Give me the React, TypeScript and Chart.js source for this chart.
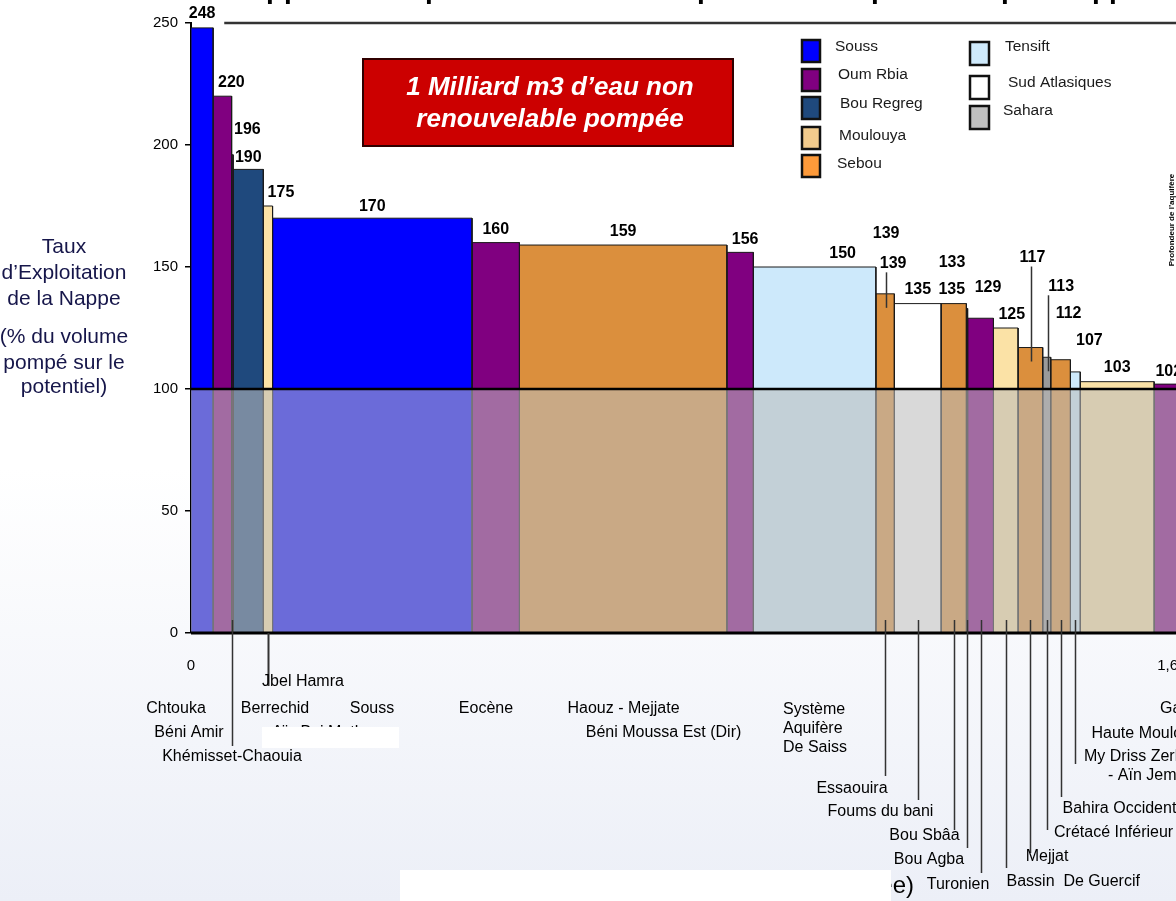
import React, { useEffect, useRef } from 'react';
import { Chart, registerables } from 'chart.js';

Chart.register(...registerables);

const FONT = '"Liberation Sans", Arial, Helvetica, sans-serif';

// ---------- DATA ----------
const aquifers = [
  'Chtouka', 'Béni Amir', 'Khémisset-Chaouia', 'Berrechid', 'Jbel Hamra', 'Souss', 'Eocène',
  'Haouz - Mejjate', 'Béni Moussa Est (Dir)', 'Système Aquifère De Saiss', 'Essaouira',
  'Foums du bani', 'Bou Sbâa', 'Bou Agba', 'Turonien', 'Bassin De Guercif', 'Mejjat',
  'Crétacé Inférieur', 'Bahira Occidentale', 'My Driss Zerhoun - Aïn Jemaa', 'Haute Moulouya', 'Gareb',
];
const basinOf = [
  'Souss', 'Oum Rbia', 'Oum Rbia', 'Bou Regreg', 'Moulouya', 'Souss', 'Oum Rbia',
  'Sebou', 'Oum Rbia', 'Tensift', 'Sebou',
  'Sud Atlasiques', 'Sebou', 'Sebou', 'Oum Rbia', 'Moulouya', 'Sebou',
  'Sahara', 'Sebou', 'Tensift', 'Moulouya', 'Oum Rbia',
];
// volume pumped (Mm3/an) = bar width
const volumes = [36, 30, 2.5, 49, 15, 324, 77, 337, 43, 199, 30, 76, 41, 2, 42, 40, 40, 13, 32, 16, 120, 80];
// exploitation rate (%) = bar height
const rates = [248, 220, 196, 190, 175, 170, 160, 159, 156, 150, 139, 135, 135, 133, 129, 125, 117, 113, 112, 107, 103, 102];
const extraValueLabels = [{ bar: 10, text: '139' }];
const yTicks = { min: 0, max: 250, step: 50 };
const xRange = { min: 0, max: 1600 };
const xEndLabels = ['0', '1,600'];
const threshold = 100;

const legendBasins = ['Souss', 'Oum Rbia', 'Bou Regreg', 'Moulouya', 'Sebou', 'Tensift', 'Sud Atlasiques', 'Sahara'];

// ---------- STYLE / LAYOUT ----------
const barColors: Record<string, string> = {
  'Souss': '#0000ff', 'Oum Rbia': '#800080', 'Bou Regreg': '#1f497d', 'Moulouya': '#fbe2a6',
  'Sebou': '#db8f3d', 'Tensift': '#cde9fb', 'Sud Atlasiques': '#ffffff', 'Sahara': '#9a9a9a',
};
const legendColors: Record<string, string> = {
  'Souss': '#0000ff', 'Oum Rbia': '#800080', 'Bou Regreg': '#1f497d', 'Moulouya': '#f2cb8d',
  'Sebou': '#fd9a3a', 'Tensift': '#cfeafc', 'Sud Atlasiques': '#ffffff', 'Sahara': '#c0c0c0',
};
// legend layout: [squareX, squareY, squareW, squareH, textX, textY]
const legendLayout = [
  [802, 40, 18, 22, 835, 47], [802, 69, 18, 22, 838, 75], [802, 97, 18, 22, 840, 104],
  [802, 127, 18, 22, 839, 136], [802, 155, 18, 22, 837, 164],
  [970, 42, 19, 23, 1005, 47], [970, 76, 19, 23, 1008, 83], [970, 106, 19, 23, 1003, 111],
];
// value label offsets from bar centre / bar top (px)
const valueLabelOffset = [
  [0, -14], [9, -13.5], [15, -25], [0, -12], [13, -13], [0, -12], [0, -12.6], [0, -13.3], [5, -12.4],
  [28, -13], [8, -30.5], [0, -14], [-2, -14], [-15, -46], [7.5, -31], [6, -13], [2, -90], [14.5, -71],
  [8, -46], [14, -31], [0, -14], [-10, -12.4],
];
const extraValueOffset = [[1, -60]];
const upperLeaders = [10, 16, 17];
// lower leader lines: [bar index, startY, endY, width]
const lowerLeaders = [
  [2, 620, 746, 1.5], [4, 633, 686, 2], [10, 620, 776, 1.5], [11, 620, 800, 1.5], [12, 620, 830, 1.5],
  [13, 620, 848, 1.5], [14, 620, 873, 1.5], [15, 620, 868, 1.5], [16, 620, 853, 1.5],
  [17, 620, 830, 1.5], [18, 620, 797, 1.5], [19, 620, 764, 1.5],
];
// name labels: [text, x, y, align]
const nameLabels: [string, number, number, CanvasTextAlign][] = [
  ['Chtouka', 176, 709, 'center'], ['Béni Amir', 189, 733, 'center'], ['Khémisset-Chaouia', 232, 757, 'center'],
  ['Jbel Hamra', 303, 682, 'center'], ['Berrechid', 275, 709, 'center'], ['Souss', 372, 709, 'center'],
  ['Aïn Bni Mathar', 325, 732.5, 'center'],
  ['Eocène', 486, 709, 'center'], ['Haouz - Mejjate', 623.5, 709, 'center'], ['Béni Moussa Est (Dir)', 663.5, 733, 'center'],
  ['Système', 783, 710, 'left'], ['Aquifère', 783, 729, 'left'], ['De Saiss', 783, 747.5, 'left'],
  ['Essaouira', 852, 788.5, 'center'], ['Foums du bani', 880.5, 812, 'center'], ['Bou Sbâa', 924.5, 836, 'center'],
  ['Bou Agba', 929, 860, 'center'], ['Turonien', 958, 885, 'center'], ['Bassin  De Guercif', 1006.5, 882, 'left'],
  ['Mejjat', 1047, 857, 'center'], ['Crétacé Inférieur', 1054, 833, 'left'], ['Bahira Occidentale', 1062.5, 809, 'left'],
  ['My Driss Zerhoun', 1084, 757, 'left'], ['- Aïn Jemaa', 1108, 776, 'left'], ['Haute Moulouya', 1091.5, 734, 'left'],
  ['Gareb', 1160, 709, 'left'],
];
const yTitle: [string, number][] = [
  ['Taux', 247], ['d’Exploitation', 273.5], ['de la Nappe', 299.5],
  ['(% du volume', 337.5], ['pompé sur le', 363], ['potentiel)', 387],
];
const titleStemsX = [268, 286, 427, 699, 873, 1003, 1094, 1111];
const whiteBoxes = [[262, 727, 137, 21], [400, 870, 491, 31]];

const cumStart: number[] = [];
{
  let acc = 0;
  volumes.forEach((v) => { cumStart.push(acc); acc += v; });
}

const annotationPlugin = {
  id: 'annotations',
  afterDatasetsDraw(chart: any) {
    const ctx: CanvasRenderingContext2D = chart.ctx;
    const xs = chart.scales.x;
    const ys = chart.scales.y;
    const cx = (i: number) => xs.getPixelForValue(cumStart[i] + volumes[i] / 2);
    const top = (i: number) => ys.getPixelForValue(rates[i]);
    ctx.save();

    // value labels
    ctx.fillStyle = '#000';
    ctx.font = `bold 16px ${FONT}`;
    ctx.textAlign = 'center';
    ctx.textBaseline = 'middle';
    rates.forEach((r, i) => {
      const [dx, dy] = valueLabelOffset[i];
      ctx.fillText(String(r), cx(i) + dx, top(i) + dy);
    });
    extraValueLabels.forEach((l, k) => {
      const [dx, dy] = extraValueOffset[k];
      ctx.fillText(l.text, cx(l.bar) + dx, top(l.bar) + dy);
    });

    // upper leader lines
    ctx.strokeStyle = '#333';
    ctx.lineWidth = 1.5;
    upperLeaders.forEach((i) => {
      const x = Math.round(cx(i) + 1) + 0.5;
      ctx.beginPath();
      ctx.moveTo(x, top(i) + valueLabelOffset[i][1] + 9);
      ctx.lineTo(x, top(i) + 14);
      ctx.stroke();
    });

    // lower leader lines
    lowerLeaders.forEach(([i, y0, y1, w]) => {
      ctx.lineWidth = w;
      const x = Math.round(cx(i)) + 0.5;
      ctx.beginPath();
      ctx.moveTo(x, y0);
      ctx.lineTo(x, y1);
      ctx.stroke();
    });

    // name labels
    ctx.fillStyle = '#000';
    ctx.font = `16px ${FONT}`;
    ctx.textBaseline = 'middle';
    nameLabels.forEach(([t, x, y, a]) => {
      ctx.textAlign = a;
      ctx.fillText(t, x, y);
    });

    // x end labels
    ctx.font = `15px ${FONT}`;
    ctx.textAlign = 'center';
    ctx.fillText(xEndLabels[0], xs.getPixelForValue(xRange.min), 665.5);
    ctx.fillText(xEndLabels[1], xs.getPixelForValue(xRange.max), 665.5);

    // axis title (x, partially hidden)
    ctx.font = `24px ${FONT}`;
    ctx.textAlign = 'right';
    ctx.fillText('Volume pompé (Mm3/an, échelle cumulée)', 914, 886);

    // white masking boxes
    ctx.fillStyle = '#ffffff';
    whiteBoxes.forEach(([x, y, w, h]) => ctx.fillRect(x, y, w, h));

    // y title
    ctx.fillStyle = '#16164a';
    ctx.font = `21px ${FONT}`;
    ctx.textAlign = 'center';
    yTitle.forEach(([t, y]) => ctx.fillText(t, 64, y));

    // cropped title (only descenders visible)
    ctx.fillStyle = '#000';
    ctx.font = `bold 28px ${FONT}`;
    ctx.textAlign = 'left';
    ctx.textBaseline = 'alphabetic';
    titleStemsX.forEach((x) => ctx.fillText('p', x - 2, -2));

    // red callout box
    ctx.fillStyle = '#cc0000';
    ctx.fillRect(363, 59, 370, 87);
    ctx.strokeStyle = '#300000';
    ctx.lineWidth = 2;
    ctx.strokeRect(363, 59, 370, 87);
    ctx.fillStyle = '#ffffff';
    ctx.font = `italic bold 26px ${FONT}`;
    ctx.textAlign = 'center';
    ctx.textBaseline = 'middle';
    ctx.fillText('1 Milliard m3 d’eau non', 550, 88);
    ctx.fillText('renouvelable pompée', 550, 120);

    // legend
    ctx.font = `15.5px ${FONT}`;
    ctx.textAlign = 'left';
    legendBasins.forEach((b, k) => {
      const [sx, sy, sw, sh, tx, ty] = legendLayout[k];
      ctx.fillStyle = legendColors[b];
      ctx.fillRect(sx, sy, sw, sh);
      ctx.strokeStyle = '#111';
      ctx.lineWidth = 2.5;
      ctx.strokeRect(sx, sy, sw, sh);
      ctx.fillStyle = '#1a1a1a';
      ctx.fillText(b, tx, ty);
    });

    // rotated small text at right edge
    ctx.save();
    ctx.translate(1172, 220);
    ctx.rotate(-Math.PI / 2);
    ctx.fillStyle = '#000';
    ctx.font = `bold 8px ${FONT}`;
    ctx.textAlign = 'center';
    ctx.fillText('Profondeur de l’aquifère', 0, 0);
    ctx.restore();

    ctx.restore();
  },
};

export default function App() {
  const ref = useRef<HTMLCanvasElement | null>(null);

  useEffect(() => {
    if (!ref.current) return;
    const barDatasets = rates.map((r, i) => ({
      label: aquifers[i],
      data: [
        { x: cumStart[i], y: 0 },
        { x: cumStart[i], y: r },
        { x: cumStart[i] + volumes[i], y: r },
        { x: cumStart[i] + volumes[i], y: 0 },
      ],
      borderColor: '#1a1a1a',
      borderWidth: 1,
      backgroundColor: barColors[basinOf[i]],
      fill: 'origin',
      pointRadius: 0,
      tension: 0,
      order: 3,
    }));
    const overlay = {
      label: 'overlay',
      data: [
        { x: xRange.min, y: 0 }, { x: xRange.min, y: threshold },
        { x: xRange.max, y: threshold }, { x: xRange.max, y: 0 },
      ],
      borderWidth: 0,
      borderColor: 'rgba(0,0,0,0)',
      backgroundColor: 'rgba(188,188,188,0.57)',
      fill: 'origin',
      pointRadius: 0,
      order: 2,
    };
    const hline = (y: number, x0: number, color: string, w: number) => ({
      label: 'line' + y,
      data: [{ x: x0, y }, { x: xRange.max, y }],
      borderColor: color,
      borderWidth: w,
      fill: false,
      pointRadius: 0,
      clip: false,
      order: 1,
    });
    const chart = new Chart(ref.current, {
      type: 'line',
      data: {
        datasets: [
          ...barDatasets,
          overlay,
          hline(threshold, xRange.min, '#000', 2.5),
          hline(0, xRange.min, '#000', 3),
          hline(yTicks.max, 54, '#333', 2.5),
        ] as any,
      },
      options: {
        animation: false,
        responsive: false,
        devicePixelRatio: 1,
        events: [],
        layout: { padding: { top: 23, bottom: 268, left: 0, right: 0 } },
        plugins: { legend: { display: false }, tooltip: { enabled: false } },
        scales: {
          x: { type: 'linear', min: xRange.min, max: xRange.max, display: false },
          y: {
            min: yTicks.min,
            max: yTicks.max,
            afterFit: (s: any) => { s.width = 191; },
            border: { display: true, color: '#000', width: 2 },
            grid: { drawOnChartArea: false, drawTicks: true, tickLength: 6, color: '#000', lineWidth: 1.5 },
            ticks: { stepSize: yTicks.step, color: '#000', padding: 7, font: { size: 15, family: FONT } },
          },
        },
      } as any,
      plugins: [annotationPlugin],
    });
    return () => chart.destroy();
  }, []);

  return (
    <div
      style={{
        position: 'fixed', left: 0, top: 0, width: 1176, height: 901, overflow: 'hidden',
        background: 'linear-gradient(to bottom, #ffffff 0%, #ffffff 52%, #eceff7 100%)',
      }}
    >
      <canvas ref={ref} width={1176} height={901} style={{ display: 'block', width: 1176, height: 901 }} />
    </div>
  );
}
